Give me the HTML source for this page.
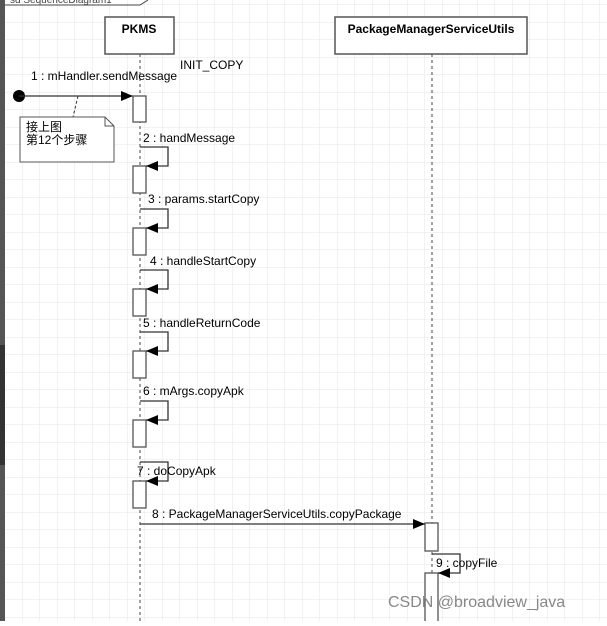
<!DOCTYPE html><html><head><style>body{margin:0;background:#fff}</style></head><body>
<svg width="607" height="621" xmlns="http://www.w3.org/2000/svg" font-family="Liberation Sans, Noto Sans CJK SC, sans-serif" font-size="12">
<defs><pattern id="g" width="17.5" height="17.5" patternUnits="userSpaceOnUse" x="5" y="5"><path d="M17.5 0V17.5H0" fill="none" stroke="#e4e4e4" stroke-width="1"/></pattern>
<marker id="a" markerWidth="12" markerHeight="10" refX="12" refY="5" orient="auto" markerUnits="userSpaceOnUse"><path d="M0 0L12 5L0 10z" fill="#000"/></marker></defs>
<rect width="607" height="621" fill="url(#g)"/>
<rect x="0" y="0" width="5" height="621" fill="#555"/>
<rect x="0" y="345" width="5" height="120" fill="#333"/>
<path d="M5 5H140L148 0" fill="none" stroke="#444"/>
<text x="10" y="3" font-size="10" fill="#444">sd SequenceDiagram1</text>
<g fill="none" stroke="#444" stroke-dasharray="3,3"><path d="M140 54V621M432 54V621"/></g>
<rect x="105" y="17" width="69" height="37" fill="#fff" stroke="#555" stroke-width="1.5"/>
<text x="139" y="33" text-anchor="middle" font-weight="bold">PKMS</text>
<rect x="335" y="17" width="192" height="37" fill="#fff" stroke="#555" stroke-width="1.5"/>
<text x="431" y="33" text-anchor="middle" font-weight="bold">PackageManagerServiceUtils</text>
<text x="180" y="69" font-size="12">INIT_COPY</text>
<circle cx="19" cy="96" r="6" fill="#000"/>
<line x1="19" y1="96" x2="133" y2="96" stroke="#333" stroke-width="1.3" marker-end="url(#a)"/>
<text x="31" y="80">1 : mHandler.sendMessage</text>
<line x1="78" y1="96" x2="73" y2="117" stroke="#333" stroke-dasharray="3,2"/>
<path d="M20 117H105L114 126V162H20Z" fill="#fff" stroke="#555"/><path d="M105 117V126H114" fill="none" stroke="#555"/>
<text x="26" y="131">接上图</text><text x="26" y="144">第12个步骤</text>
<g fill="#fff" stroke="#555" stroke-width="1.3">
<rect x="133" y="96" width="13" height="26"/>
<rect x="133" y="166" width="13" height="27"/>
<rect x="133" y="228" width="13" height="27"/>
<rect x="133" y="289" width="13" height="27"/>
<rect x="133" y="351" width="13" height="27"/>
<rect x="133" y="420" width="13" height="27"/>
<rect x="133" y="481" width="13" height="27"/>
<rect x="425" y="523" width="13" height="28"/>
<rect x="425" y="573" width="13" height="50"/>
</g>
<g fill="none" stroke="#333" stroke-width="1.3">
<path d="M140 147H168V166H146" marker-end="url(#a)"/>
<path d="M140 209H168V228H146" marker-end="url(#a)"/>
<path d="M140 270H168V289H146" marker-end="url(#a)"/>
<path d="M140 332H168V351H146" marker-end="url(#a)"/>
<path d="M140 401H168V420H146" marker-end="url(#a)"/>
<path d="M140 462H168V481H146" marker-end="url(#a)"/>
<path d="M140 524H425" marker-end="url(#a)"/>
<path d="M432 554H460V573H438" marker-end="url(#a)"/>
</g>
<text x="143" y="142">2 : handMessage</text>
<text x="148" y="203">3 : params.startCopy</text>
<text x="150" y="265">4 : handleStartCopy</text>
<text x="143" y="327">5 : handleReturnCode</text>
<text x="143" y="395">6 : mArgs.copyApk</text>
<text x="137" y="475">7 : doCopyApk</text>
<text x="152" y="518">8 : PackageManagerServiceUtils.copyPackage</text>
<text x="436" y="567">9 : copyFile</text>
<text x="388" y="607" font-size="16" fill="#888">CSDN @broadview_java</text>
</svg></body></html>
